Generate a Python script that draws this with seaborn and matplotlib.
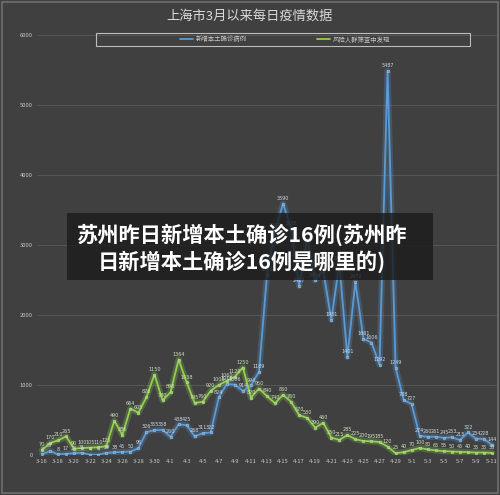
import matplotlib
matplotlib.use("Agg")
import matplotlib.pyplot as plt
from matplotlib.patches import Rectangle
from matplotlib.lines import Line2D
import numpy as np
import pandas as pd
import seaborn as sns

# ---- data ----
dates = ["3-16","3-17","3-18","3-19","3-20","3-21","3-22","3-23","3-24","3-25",
         "3-26","3-27","3-28","3-29","3-30","3-31","4-1","4-2","4-3","4-4",
         "4-5","4-6","4-7","4-8","4-9","4-10","4-11","4-12","4-13","4-14",
         "4-15","4-16","4-17","4-18","4-19","4-20","4-21","4-22","4-23","4-24",
         "4-25","4-26","4-27","4-28","4-29","4-30","5-1","5-2","5-3","5-4",
         "5-5","5-6","5-7","5-8","5-9","5-10","5-11"]
confirmed = [8, 57, 8, 17, 24, 31, 4, 4, 29, 38,
             45, 50, 96, 326, 355, 358, 260, 438, 425, 268,
             311, 322, 824, 1015, 1006, 914, 994, 1189, 2573, 3200,
             3590, 3238, 2417, 3084, 2494, 2634, 1931, 2736, 1401, 2472,
             1661, 1606, 1292, 5487, 1249, 788, 727, 274, 260, 261,
             245, 253, 215, 322, 234, 228, 144]
screening = [70, 170, 210, 265, 90, 100, 105, 110, 125, 490,
             286, 664, 605, 826, 1150, 780, 898, 1364, 1038, 745,
             760, 920, 1000, 1060, 1120, 1250, 820, 950, 840, 740,
             860, 760, 570, 530, 390, 460, 250, 215, 285, 225,
             200, 195, 185, 120, 25, 40, 70, 100, 80, 65,
             55, 50, 45, 40, 35, 35, 30]
series_names = ["新增本土确诊病例", "风险人群筛查中发现"]
yticks = [0, 1000, 2000, 3000, 4000, 5000, 6000]
title = "上海市3月以来每日疫情数据"
overlay = "苏州昨日新增本土确诊16例(苏州昨\n日新增本土确诊16例是哪里的)"

BG = "#404040"
BLUE = "#5b9bd5"
GREEN = "#92d050"
TXT = "#c8c8c8"

sns.set_style("dark")
plt.rcParams["font.family"] = ["Noto Sans CJK SC", "DejaVu Sans"]

df = pd.DataFrame({
    "idx": list(range(len(dates))) * 2,
    "value": confirmed + screening,
    "series": [series_names[0]] * len(dates) + [series_names[1]] * len(dates),
})

fig = plt.figure(figsize=(5.0, 4.95), dpi=100, facecolor=BG)
ax = fig.add_axes([37/500, 1-455/495, 460/500, 420/495])
ax.set_facecolor(BG)

palette = {series_names[0]: BLUE, series_names[1]: GREEN}
# glow
for name in series_names:
    sub = df[df.series == name]
    sns.lineplot(data=sub, x="idx", y="value", ax=ax, color=palette[name],
                 linewidth=4.5, alpha=0.25, legend=False, zorder=2)
for name in series_names:
    sub = df[df.series == name]
    sns.lineplot(data=sub, x="idx", y="value", ax=ax, color=palette[name],
                 linewidth=1.3, marker="o", markersize=2.0,
                 markeredgecolor="#d8d8d8", markeredgewidth=0.25,
                 legend=False, zorder=3)

# data labels
for vals, col in ((screening, "#cfe0bc"), (confirmed, "#ccd8e6")):
    for i, v in enumerate(vals):
        ax.text(i, v + 40, str(v), fontsize=3.5, color=col, ha="center",
                va="bottom", zorder=4, family="DejaVu Sans")

ax.set_ylim(0, 6000)
ax.set_xlim(-0.62, len(dates) - 1 + 0.62)
ax.set_yticks(yticks)
ax.set_yticklabels([str(t) for t in yticks], fontsize=4.2, color=TXT)
ax.set_xticks(range(0, len(dates), 2))
ax.set_xticklabels(dates[::2], fontsize=4.2, color=TXT)
ax.tick_params(axis="both", length=0, pad=3)
ax.grid(axis="y", color="#575757", linewidth=0.7)
ax.grid(axis="x", visible=False)
ax.set_xlabel("")
ax.set_ylabel("")
for s in ax.spines.values():
    s.set_visible(False)

# title
fig.text(0.5, 1-16/495, title, ha="center", va="center", fontsize=9.5, color="#d9d9d9")

# legend
handles = [Line2D([], [], color=BLUE, linewidth=1.3),
           Line2D([], [], color=GREEN, linewidth=1.3)]
leg = fig.legend(handles, series_names, loc="center", ncol=2,
                 bbox_to_anchor=(285/500, 1-39.5/495), frameon=False,
                 fontsize=4.6, labelcolor=TXT, handlelength=2.0,
                 handletextpad=0.4, columnspacing=11)
fig.patches.append(Rectangle((96/500, 1-46/495), 374/500, 13/495,
                             transform=fig.transFigure, fill=False,
                             edgecolor="#bdbdbd", linewidth=0.8))

# overlay box with caption
fig.patches.append(Rectangle((67/500, 1-280/495), 366/500, 67/495,
                             transform=fig.transFigure, facecolor="#1c1c1c",
                             alpha=0.82, edgecolor="none", zorder=10))
fig.text(242/500, 1-248.5/495, overlay, ha="center", va="center", fontsize=15.3,
         fontweight="bold", color="white", linespacing=1.22, zorder=11)

# outer frame
fig.patches.append(Rectangle((2/500, 2/495), 496/500, 491/495,
                             transform=fig.transFigure, fill=False,
                             edgecolor="#6e6e6e", linewidth=1.2))

fig.savefig("out.png", dpi=100, facecolor=BG)
